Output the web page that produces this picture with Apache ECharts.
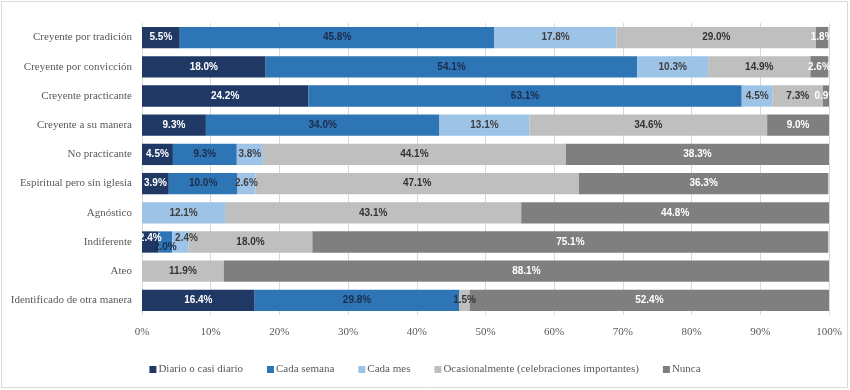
<!DOCTYPE html>
<html>
<head>
<meta charset="utf-8">
<script src="https://cdn.jsdelivr.net/npm/echarts@6/dist/echarts.min.js"></script>
<style>
  html, body { margin: 0; padding: 0; background: #fff; }
  #chart { width: 850px; height: 390px; }
</style>
</head>
<body>
<div id="chart"></div>
<script>
const categories = [
  'Creyente por tradición',
  'Creyente por convicción',
  'Creyente practicante',
  'Creyente a su manera',
  'No practicante',
  'Espiritual pero sin iglesia',
  'Agnóstico',
  'Indiferente',
  'Ateo',
  'Identificado de otra manera'
];
const seriesNames = [
  'Diario o casi diario',
  'Cada semana',
  'Cada mes',
  'Ocasionalmente (celebraciones importantes)',
  'Nunca'
];
const diario = [5.5, 18.0, 24.2, 9.3, 4.5, 3.9, 0, 2.4, 0, 16.4];
const semana = [45.8, 54.1, 63.1, 34.0, 9.3, 10.0, 0, 2.0, 0, 29.8];
const mes = [17.8, 10.3, 4.5, 13.1, 3.8, 2.6, 12.1, 2.4, 0, 0];
const ocasional = [29.0, 14.9, 7.3, 34.6, 44.1, 47.1, 43.1, 18.0, 11.9, 1.5];
const nunca = [1.8, 2.6, 0.9, 9.0, 38.3, 36.3, 44.8, 75.1, 88.1, 52.4];
const xTicks = [0, 10, 20, 30, 40, 50, 60, 70, 80, 90, 100];

const colors = ['#203864', '#2E75B6', '#9DC3E6', '#BFBFBF', '#7F7F7F'];
const labelColors = ['#ffffff', '#1c2b4a', '#404040', '#333333', '#ffffff'];
// Excel nudged the crowded labels of the "Indiferente" row
const nudges = { 0: [0, -4], 1: [0, 5], 2: [6, -4] };
const serif = '"Liberation Serif", "Times New Roman", serif';

const chart = echarts.init(document.getElementById('chart'));
const allData = [diario, semana, mes, ocasional, nunca];

const series = allData.map((vals, s) => ({
  name: seriesNames[s],
  type: 'bar',
  stack: 'total',
  barCategoryGap: '27%',
  itemStyle: { color: colors[s] },
  label: {
    show: true,
    position: 'inside',
    color: labelColors[s],
    fontFamily: '"Liberation Sans", Arial, sans-serif',
    fontWeight: 'bold',
    fontSize: 10,
    formatter: p => (p.value > 0 ? p.value.toFixed(1) + '%' : '')
  },
  data: vals.map((v, i) => {
    if (i === 7 && nudges[s]) {
      return { value: v, label: { offset: nudges[s] } };
    }
    return v;
  })
}));

chart.setOption({
  animation: false,
  color: colors,
  graphic: [{
    type: 'rect',
    shape: { x: 1.5, y: 1.5, width: 846, height: 386 },
    style: { fill: 'none', stroke: '#D9D9D9', lineWidth: 1 }
  }],
  grid: { left: 142, right: 21, top: 23, bottom: 75 },
  legend: {
    bottom: 10,
    left: 'center',
    itemWidth: 7,
    itemHeight: 7,
    itemGap: 24,
    icon: 'rect',
    textStyle: { fontFamily: serif, fontSize: 11, color: '#595959', padding: [0, 0, 0, -3] },
    data: seriesNames
  },
  xAxis: {
    type: 'value',
    min: 0,
    max: 100,
    interval: 10,
    axisLine: { show: false },
    axisTick: { show: false },
    splitLine: { lineStyle: { color: '#D9D9D9' } },
    axisLabel: {
      fontFamily: serif,
      fontSize: 11,
      color: '#595959',
      margin: 12,
      formatter: v => (xTicks.includes(v) ? v + '%' : '')
    }
  },
  yAxis: {
    type: 'category',
    inverse: true,
    data: categories,
    axisLine: { show: false },
    axisTick: { show: false },
    axisLabel: { fontFamily: serif, fontSize: 11, color: '#595959', margin: 10 }
  },
  series: series
});
</script>
</body>
</html>
